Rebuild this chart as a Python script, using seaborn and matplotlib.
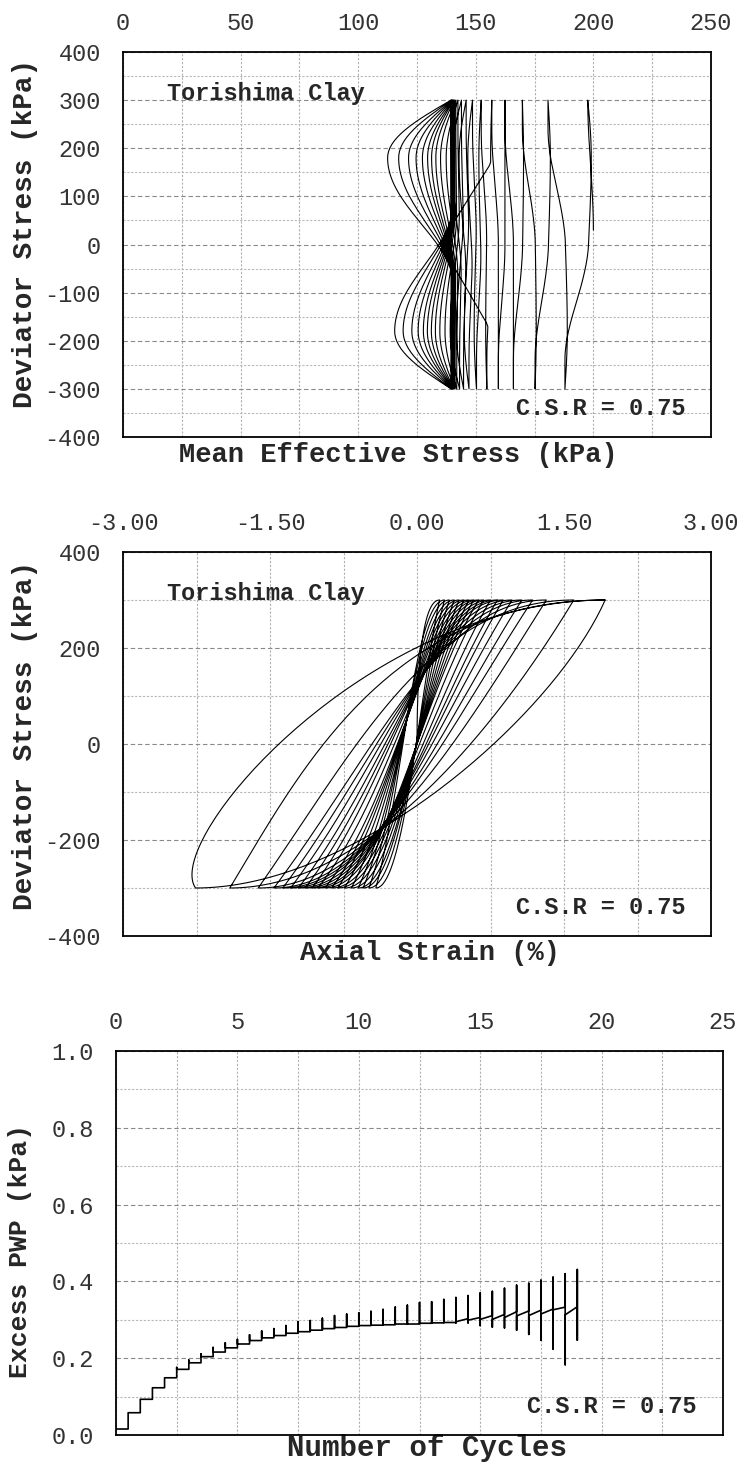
import numpy as np
import matplotlib
matplotlib.use("Agg")
import matplotlib.pyplot as plt
import seaborn as sns
import pandas as pd
from matplotlib.ticker import MultipleLocator, FormatStrFormatter

# ---------------- data ----------------
# Panel 1 : effective stress path, p' (kPa) at every stress reversal
q_amp = 300.0
p_start, q_start = 200.0, 30.0
p_top = [197.6, 180.7, 169.8, 162.4, 156.8, 152.3, 148.6, 145.9, 143.9, 142.4,
         141.5, 141.0, 140.7, 140.5, 140.3, 140.1, 139.9, 139.7, 139.5, 139.4]
p_bot = [187.9, 175.2, 166.0, 159.6, 154.7, 150.3, 147.1, 144.8, 143.1, 141.9,
         141.2, 140.8, 140.6, 140.4, 140.2, 140.0, 139.8, 139.6, 139.5]
# leftward excursion of p' (kPa) during each unloading / reloading half cycle
bulge_unload = [-1.5, -1.0, -0.5, 0.0, 0.5, 1.0, 2.0, 3.0, 4.0, 5.0,
                6.5, 8.0, 9.5, 11.0, 13.0, 15.5, 18.5, 22.5, 27.0]
bulge_load = [-1.0, -0.5, 0.0, 0.0, 0.5, 1.0, 2.0, 3.0, 4.0, 5.0,
              6.5, 8.0, 9.5, 11.0, 12.5, 14.5, 17.0, 20.5, 24.0]
# sharp leftward excursion around q = 0 (kPa) seen in one unloading
spike_unload = [0, 0, 0, 0, 22.0, 0, 0, 0, 0, 0,
                0, 0, 0, 0, 0, 0, 0, 0, 0]

# Panel 2 : axial strain (%) at every reversal
eps_top = [0.23, 0.28, 0.33, 0.38, 0.43, 0.48, 0.53, 0.58, 0.63, 0.68,
           0.75, 0.82, 0.88, 0.97, 1.07, 1.18, 1.32, 1.60, 1.92, 1.92]
eps_bot = [-0.42, -0.49, -0.55, -0.60, -0.67, -0.74, -0.81, -0.87, -0.94, -1.01,
           -1.07, -1.14, -1.21, -1.29, -1.37, -1.46, -1.62, -1.91, -2.26]
# shape points of each branch (strain %, q kPa)
load_c1e = [-0.15, -0.15, -0.15, -0.15, -0.15, -0.15, -0.15, -0.15, -0.15, -0.17,
            -0.20, -0.22, -0.25, -0.30, -0.35, -0.40, -0.60, -1.20, -2.60]
load_c1q = [-100, -100, -100, -100, -100, -100, -100, -100, -100, -80,
            -60, -50, -40, -30, -20, -10, 0, -60, -200]
load_c2e = [-0.03, -0.02, 0.00, 0.01, 0.02, 0.03, 0.05, 0.06, 0.07, 0.09,
            0.10, 0.12, 0.14, 0.17, 0.20, 0.23, 0.15, -0.30, -0.50]
unload_c1e = [0.02, 0.02, 0.02, 0.02, 0.02, 0.02, 0.02, 0.02, 0.02, 0.04,
              0.07, 0.10, 0.12, 0.15, 0.20, 0.25, 0.40, 0.80, 1.40]
unload_c1q = [100, 100, 100, 100, 100, 100, 100, 100, 100, 80,
              60, 50, 40, 30, 20, 10, 0, 30, 60]
unload_c2e = [-0.13, -0.15, -0.17, -0.18, -0.20, -0.22, -0.24, -0.26, -0.28, -0.30,
              -0.32, -0.34, -0.36, -0.39, -0.41, -0.44, -0.49, -0.50, -0.60]

# Panel 3 : excess pore water pressure per half cycle
pwp_x = [0.5, 1.0, 1.5, 2.0, 2.5, 3.0, 3.5, 4.0, 4.5, 5.0,
         5.5, 6.0, 6.5, 7.0, 7.5, 8.0, 8.5, 9.0, 9.5, 10.0,
         10.5, 11.0, 11.5, 12.0, 12.5, 13.0, 13.5, 14.0, 14.5, 15.0,
         15.5, 16.0, 16.5, 17.0, 17.5, 18.0, 18.5, 19.0]
pwp_initial = 0.0156
pwp_arrive = [0.0156, 0.058, 0.093, 0.123, 0.149, 0.171, 0.188, 0.204, 0.216, 0.227,
              0.237, 0.246, 0.253, 0.259, 0.265, 0.269, 0.273, 0.277, 0.280, 0.283,
              0.285, 0.286, 0.287, 0.289, 0.289, 0.291, 0.292, 0.293, 0.303, 0.306,
              0.311, 0.314, 0.321, 0.323, 0.325, 0.328, 0.333, 0.334]
pwp_top = [0.058, 0.093, 0.123, 0.149, 0.176, 0.195, 0.211, 0.228, 0.240, 0.249,
           0.261, 0.271, 0.277, 0.285, 0.295, 0.298, 0.304, 0.311, 0.315, 0.318,
           0.322, 0.327, 0.333, 0.338, 0.345, 0.347, 0.353, 0.358, 0.363, 0.370,
           0.374, 0.382, 0.390, 0.395, 0.403, 0.411, 0.420, 0.431]
pwp_bottom = [0.0156, 0.058, 0.093, 0.123, 0.149, 0.171, 0.188, 0.204, 0.216, 0.227,
              0.237, 0.246, 0.253, 0.259, 0.265, 0.269, 0.273, 0.277, 0.280, 0.283,
              0.285, 0.286, 0.287, 0.289, 0.289, 0.291, 0.292, 0.292, 0.292, 0.285,
              0.281, 0.279, 0.273, 0.262, 0.247, 0.224, 0.183, 0.247]
pwp_leave = [0.058, 0.093, 0.123, 0.149, 0.171, 0.188, 0.204, 0.216, 0.227, 0.237,
             0.246, 0.253, 0.259, 0.265, 0.269, 0.273, 0.277, 0.280, 0.283, 0.285,
             0.286, 0.287, 0.289, 0.289, 0.291, 0.292, 0.293, 0.295, 0.299, 0.301,
             0.301, 0.306, 0.310, 0.311, 0.315, 0.326, 0.313, 0.334]

title_text = "Torishima Clay"
csr_text = "C.S.R = 0.75"

# ---------------- helpers (curve shapes between read points) ----------------
N = 80


def bump(t):
    out = np.zeros_like(t)
    m1 = t < 0.2
    out[m1] = np.sin(np.pi / 2 * t[m1] / 0.2)
    m2 = (t >= 0.2) & (t < 0.6)
    out[m2] = np.cos(np.pi / 2 * (t[m2] - 0.2) / 0.4) ** 1.6
    return out


def spike(t):
    return np.clip(1 - np.abs(t - 0.5) / 0.28, 0, 1)


def sstep(t, a, b):
    u = np.clip((t - a) / (b - a), 0, 1)
    return u * u * (3 - 2 * u)


def bezier(p0, p1, p2, p3, n=N):
    t = np.linspace(0, 1, n)[:, None]
    P = ((1 - t) ** 3) * np.array(p0) + 3 * ((1 - t) ** 2) * t * np.array(p1) \
        + 3 * (1 - t) * t ** 2 * np.array(p2) + t ** 3 * np.array(p3)
    return P[:, 0], P[:, 1]


# panel 1 path
tau = np.linspace(0, 1, N)
P, Q = [], []
P.append(p_start + (p_top[0] - p_start) * sstep(tau, 0, 1))
Q.append(q_start + (q_amp - q_start) * tau)
for i in range(len(p_bot)):
    P.append(p_top[i] + (p_bot[i] - p_top[i]) * sstep(tau, 0.5, 0.9)
             - bulge_unload[i] * bump(tau) - spike_unload[i] * spike(tau))
    Q.append(q_amp - 2 * q_amp * tau)
    P.append(p_bot[i] + (p_top[i + 1] - p_bot[i]) * sstep(tau, 0.5, 0.9) - bulge_load[i] * bump(tau))
    Q.append(-q_amp + 2 * q_amp * tau)
df1 = pd.DataFrame({"p": np.concatenate(P), "q": np.concatenate(Q)})

# panel 2 path
E, Q2 = [], []
e, q = bezier((0.0, 0.0), (0.0, 150.0), (0.05, q_amp), (eps_top[0], q_amp))
E.append(e); Q2.append(q)
for i in range(len(eps_bot)):
    e, q = bezier((eps_top[i], q_amp), (unload_c1e[i], unload_c1q[i]),
                  (unload_c2e[i], -q_amp), (eps_bot[i], -q_amp))
    E.append(e); Q2.append(q)
    e, q = bezier((eps_bot[i], -q_amp), (load_c1e[i], load_c1q[i]),
                  (load_c2e[i], q_amp), (eps_top[i + 1], q_amp))
    E.append(e); Q2.append(q)
df2 = pd.DataFrame({"eps": np.concatenate(E), "q": np.concatenate(Q2)})

# panel 3 path
X3, Y3 = [0.0], [pwp_initial]
for k in range(len(pwp_x)):
    for v in (pwp_arrive[k], pwp_top[k], pwp_bottom[k], pwp_leave[k]):
        X3.append(pwp_x[k]); Y3.append(v)
df3 = pd.DataFrame({"n": X3, "u": Y3})

# ---------------- figure ----------------
sns.set_style("white")
plt.rcParams["font.family"] = ["Liberation Mono", "DejaVu Sans Mono"]

W, H = 745, 1462
fig = plt.figure(figsize=(W / 100, H / 100), dpi=100)


def add_ax(left, top, right, bottom):
    return fig.add_axes([left / W, 1 - bottom / H, (right - left) / W, (bottom - top) / H])


ax1 = add_ax(123, 52, 711, 437)
ax2 = add_ax(123, 552, 711, 936)
ax3 = add_ax(116, 1051, 723, 1435)

tick_fs = 17
ann_fs = 17

sns.lineplot(data=df1, x="p", y="q", sort=False, estimator=None, color="black", lw=0.8, ax=ax1)
sns.lineplot(data=df2, x="eps", y="q", sort=False, estimator=None, color="black", lw=0.8, ax=ax2)
sns.lineplot(data=df3, x="n", y="u", sort=False, estimator=None, color="black", lw=1.2, ax=ax3)

specs = [
    (ax1, (0, 250), 50, 25, "%d", (-400, 400), 100, 50, "%d",
     "Mean Effective Stress (kPa)", 19.5, (0.469, -0.047),
     "Deviator Stress (kPa)", 20, (-0.166, 0.53)),
    (ax2, (-3, 3), 1.5, 0.75, "%.2f", (-400, 400), 200, 100, "%d",
     "Axial Strain (%)", 19.5, (0.522, -0.044),
     "Deviator Stress (kPa)", 20, (-0.166, 0.523)),
    (ax3, (0, 25), 5, 2.5, "%d", (0, 1.0), 0.2, 0.1, "%.1f",
     "Number of Cycles", 21, (0.513, -0.034),
     "Excess PWP (kPa)", 19, (-0.158, 0.48)),
]
for (ax, xl, xmaj, xmin, xf, yl, ymaj, ymin, yf,
     xlab, xfs, xlc, ylab, yfs, ylc) in specs:
    ax.set_xlim(*xl)
    ax.set_ylim(*yl)
    ax.xaxis.set_major_locator(MultipleLocator(xmaj))
    ax.xaxis.set_minor_locator(MultipleLocator(xmin))
    ax.yaxis.set_major_locator(MultipleLocator(ymaj))
    ax.yaxis.set_minor_locator(MultipleLocator(ymin))
    ax.xaxis.set_major_formatter(FormatStrFormatter(xf))
    ax.yaxis.set_major_formatter(FormatStrFormatter(yf))
    ax.xaxis.tick_top()
    ax.tick_params(axis="x", which="both", length=0, pad=12, labelsize=tick_fs,
                   labelcolor="#333333")
    ax.tick_params(axis="y", which="both", length=0, pad=16, labelsize=tick_fs,
                   labelcolor="#333333")
    ax.grid(which="major", axis="y", ls=(0, (4, 2.5)), color="#8a8a8a", lw=0.8)
    ax.grid(which="minor", axis="y", ls=(0, (2, 1.5)), color="#b8b8b8", lw=0.8)
    ax.grid(which="both", axis="x", ls=(0, (2, 1.5)), color="#b0b0b0", lw=0.8)
    ax.set_axisbelow(True)
    for s in ax.spines.values():
        s.set_color("black")
        s.set_linewidth(1.3)
    ax.xaxis.set_label_position("bottom")
    ax.set_xlabel(xlab, fontsize=xfs, fontweight="bold")
    ax.xaxis.set_label_coords(*xlc)
    ax.xaxis.label.set_va("center")
    ax.set_ylabel(ylab, fontsize=yfs, fontweight="bold")
    ax.yaxis.set_label_coords(*ylc)
    ax.yaxis.label.set_va("center")
    ax.text(0.956, 0.073, csr_text, transform=ax.transAxes, ha="right", va="center",
            fontsize=ann_fs, fontweight="bold")

for ax in (ax1, ax2):
    ax.text(0.075, 0.892, title_text, transform=ax.transAxes, ha="left", va="center",
            fontsize=ann_fs, fontweight="bold")

fig.savefig("out.png", dpi=100)
